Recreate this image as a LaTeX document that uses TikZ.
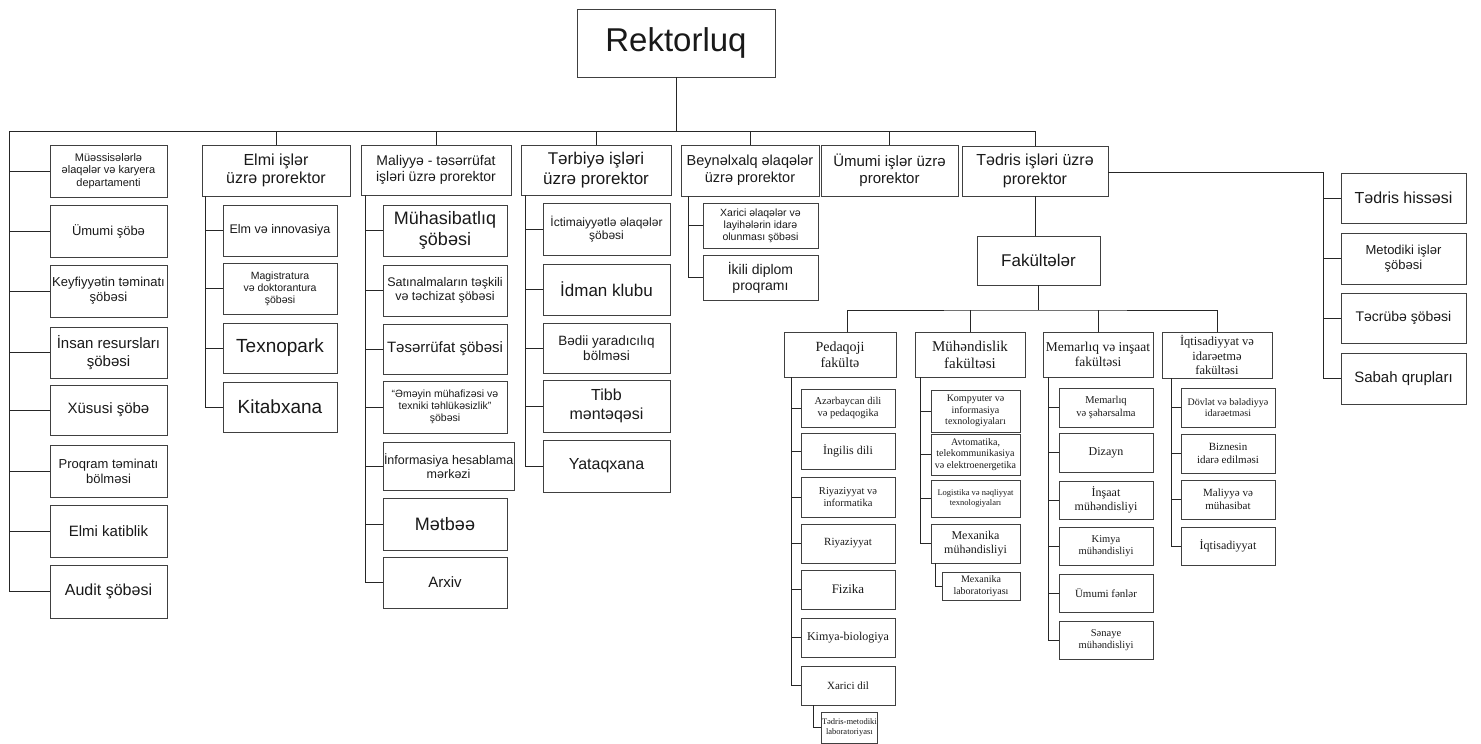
\documentclass[tikz,border=0pt]{standalone}
\usepackage{fontspec}
\setmainfont{Liberation Sans}
\newfontfamily\facfont{Liberation Serif}
\tikzset{
  box/.style={draw=black!75, line width=0.8pt, inner sep=1pt, outer sep=0pt, align=center, text=black!90},
  conn/.style={draw=black!85, line width=0.8pt}
}
\newcommand\obox[7]{\node[box, minimum width={#4-#2}, minimum height={#5-#3}, anchor=north west, font={\fontsize{#6}{\fpeval{1.15*#6}}\selectfont}] (#1) at (#2,#3) {#7};}
\newcommand\facbox[7]{\node[box, minimum width={#4-#2}, minimum height={#5-#3}, anchor=north west, font={\facfont\fontsize{#6}{\fpeval{1.15*#6}}\selectfont}] (#1) at (#2,#3) {#7};}
\begin{document}
\begin{tikzpicture}[x=1pt,y=-1pt]
\useasboundingbox (0,0) rectangle (1481,744);
% top
\obox{rek}{577}{9}{775}{77}{33}{Rektorluq}
% level 1
\obox{elmi}{202}{145}{350}{196}{16}{Elmi işlər\\üzrə prorektor}
\obox{mal}{361}{145}{511}{195}{14}{Maliyyə - təsərrüfat\\işləri üzrə prorektor}
\obox{ter}{521}{145}{671}{195}{17}{Tərbiyə işləri\\üzrə prorektor}
\obox{bey}{681}{145}{819}{196}{14.5}{Beynəlxalq əlaqələr\\üzrə prorektor}
\obox{umu}{821}{145}{958}{196}{15}{Ümumi işlər üzrə\\prorektor}
\obox{ted}{962}{146}{1108}{196}{16}{Tədris işləri üzrə\\prorektor}
% left column
\obox{m1}{50}{145}{167}{197}{11}{Müəssisələrlə\\əlaqələr və karyera\\departamenti}
\obox{m2}{50}{205}{167}{257}{13}{Ümumi şöbə}
\obox{m3}{50}{265}{167}{317}{13}{Keyfiyyətin təminatı\\şöbəsi}
\obox{m4}{50}{327}{167}{378}{15}{İnsan resursları\\şöbəsi}
\obox{m5}{50}{385}{167}{435}{15}{Xüsusi şöbə}
\obox{m6}{50}{445}{167}{497}{13}{Proqram təminatı\\bölməsi}
\obox{m7}{50}{505}{167}{557}{15}{Elmi katiblik}
\obox{m8}{50}{565}{167}{618}{16}{Audit şöbəsi}
% elmi
\obox{e1}{223}{205}{337}{256}{12.5}{Elm və innovasiya}
\obox{e2}{223}{263}{337}{314}{10.5}{Magistratura\\və doktorantura\\şöbəsi}
\obox{e3}{223}{323}{337}{373}{19}{Texnopark}
\obox{e4}{223}{382}{337}{432}{19}{Kitabxana}
% maliyye
\obox{a1}{383}{205}{507}{256}{18}{Mühasibatlıq\\şöbəsi}
\obox{a2}{383}{265}{507}{316}{12.5}{Satınalmaların təşkili\\və təchizat şöbəsi}
\obox{a3}{383}{324}{507}{374}{15}{Təsərrüfat şöbəsi}
\obox{a4}{383}{381}{507}{433}{10.5}{“Əməyin mühafizəsi və\\texniki təhlükəsizlik”\\şöbəsi}
\obox{a5}{383}{442}{507}{490}{12.5}{İnformasiya hesablama\\mərkəzi}
\obox{a6}{383}{498}{507}{550}{18}{Mətbəə}
\obox{a7}{383}{557}{507}{608}{15}{Arxiv}
% terbiye
\obox{t1}{543}{203}{670}{255}{12}{İctimaiyyətlə əlaqələr\\şöbəsi}
\obox{t2}{543}{264}{670}{315}{17}{İdman klubu}
\obox{t3}{543}{323}{670}{373}{13.5}{Bədii yaradıcılıq\\bölməsi}
\obox{t4}{543}{380}{670}{432}{16}{Tibb\\məntəqəsi}
\obox{t5}{543}{440}{670}{492}{16}{Yataqxana}
% beynelxalq
\obox{b1}{703}{203}{818}{248}{10.5}{Xarici əlaqələr və\\layihələrin idarə\\olunması şöbəsi}
\obox{b2}{703}{255}{818}{300}{14}{İkili diplom\\proqramı}
% right
\obox{r1}{1341}{173}{1466}{223}{16}{Tədris hissəsi}
\obox{r2}{1341}{233}{1466}{284}{13}{Metodiki işlər\\şöbəsi}
\obox{r3}{1341}{293}{1466}{343}{14}{Təcrübə şöbəsi}
\obox{r4}{1341}{353}{1466}{404}{15}{Sabah qrupları}
% fakulteler
\obox{fak}{977}{236}{1100}{285}{17}{Fakültələr}
\facbox{pe}{784}{332}{896}{377}{14}{Pedaqoji\\fakültə}
\facbox{mu}{915}{332}{1025}{377}{15}{Mühəndislik\\fakültəsi}
\facbox{me}{1043}{332}{1153}{377}{13.5}{Memarlıq və inşaat\\fakültəsi}
\facbox{iq}{1162}{332}{1272}{378}{12.5}{İqtisadiyyat və\\idarəetmə\\fakültəsi}
% pedaqoji
\facbox{p1}{801}{389}{895}{427}{10.5}{Azərbaycan dili\\və pedaqogika}
\facbox{p2}{801}{433}{895}{469}{12}{İngilis dili}
\facbox{p3}{801}{477}{895}{517}{10.5}{Riyaziyyat və\\informatika}
\facbox{p4}{801}{524}{895}{563}{11}{Riyaziyyat}
\facbox{p5}{801}{570}{895}{609}{13}{Fizika}
\facbox{p6}{801}{618}{895}{657}{12}{Kimya-biologiya}
\facbox{p7}{801}{666}{895}{705}{11}{Xarici dil}
\facbox{p8}{821}{712}{874}{743}{8.5}{Tədris-metodiki\\laboratoriyası}
% muhendislik
\facbox{n1}{931}{390}{1020}{432}{10}{Kompyuter və\\informasiya\\texnologiyaları}
\facbox{n2}{931}{434}{1020}{475}{10}{Avtomatika,\\telekommunikasiya\\və elektroenergetika}
\facbox{n3}{931}{480}{1020}{517}{8.5}{Logistika və nəqliyyat\\texnologiyaları}
\facbox{n4}{931}{524}{1020}{563}{12}{Mexanika\\mühəndisliyi}
\facbox{n5}{942}{572}{1020}{600}{10}{Mexanika\\laboratoriyası}
% memarliq
\facbox{s1}{1059}{388}{1153}{427}{10.5}{Memarlıq\\və şəhərsalma}
\facbox{s2}{1059}{433}{1153}{472}{12}{Dizayn}
\facbox{s3}{1059}{481}{1153}{519}{12}{İnşaat\\mühəndisliyi}
\facbox{s4}{1059}{527}{1153}{565}{10.5}{Kimya\\mühəndisliyi}
\facbox{s5}{1059}{574}{1153}{612}{11}{Ümumi fənlər}
\facbox{s6}{1059}{621}{1153}{659}{10.5}{Sənaye\\mühəndisliyi}
% iqtisadiyyat
\facbox{q1}{1181}{388}{1275}{427}{10}{Dövlət və bələdiyyə\\idarəetməsi}
\facbox{q2}{1181}{434}{1275}{473}{11}{Biznesin\\idarə edilməsi}
\facbox{q3}{1181}{480}{1275}{519}{11}{Maliyyə və\\mühasibat}
\facbox{q4}{1181}{527}{1275}{565}{12}{İqtisadiyyat}
% ---------- connectors
\coordinate (L) at (9,131);
\draw[conn] (rek.south) -- (rek.south |- L);
\draw[conn] (L) -| (ted.north);
\foreach \c in {elmi,mal,ter,bey,umu} \draw[conn] (\c.north) -- (\c.north |- L);
\foreach \c in {m1,m2,m3,m4,m5,m6,m7,m8} \draw[conn] (L) |- (\c.west);
\coordinate (eV) at ([xshift=3pt]elmi.south west);
\foreach \c in {e1,e2,e3,e4} \draw[conn] (eV) |- (\c.west);
\coordinate (aV) at ([xshift=4pt]mal.south west);
\foreach \c in {a1,a2,a3,a4,a5,a6,a7} \draw[conn] (aV) |- (\c.west);
\coordinate (tV) at ([xshift=4pt]ter.south west);
\foreach \c in {t1,t2,t3,t4,t5} \draw[conn] (tV) |- (\c.west);
\coordinate (bV) at ([xshift=7pt]bey.south west);
\foreach \c in {b1,b2} \draw[conn] (bV) |- (\c.west);
\coordinate (rV) at (1323,172);
\draw[conn] (ted.east |- rV) -- (rV);
\foreach \c in {r1,r2,r3,r4} \draw[conn] (rV) |- (\c.west);
\draw[conn] (ted.south) -- (ted.south |- fak.north);
\path (fak.south) ++(0,25) coordinate (fB);
\coordinate (pD) at (847,310);
\draw[conn] (fak.south) -- (fB);
\draw[conn] (pD |- pe.north) -- (pD) -- (fB) -| (iq.north);
\draw[conn] (mu.north) -- (mu.north |- fB);
\draw[conn] (me.north) -- (me.north |- fB);
\coordinate (pV) at ([xshift=7pt]pe.south west);
\foreach \c in {p1,p2,p3,p4,p5,p6,p7} \draw[conn] (pV) |- (\c.west);
\draw[conn] ([xshift=12pt]p7.south west) |- (p8.west);
\coordinate (nV) at ([xshift=5pt]mu.south west);
\foreach \c in {n1,n2,n3,n4} \draw[conn] (nV) |- (\c.west);
\draw[conn] ([xshift=4pt]n4.south west) |- (n5.west);
\coordinate (sV) at ([xshift=5pt]me.south west);
\foreach \c in {s1,s2,s3,s4,s5,s6} \draw[conn] (sV) |- (\c.west);
\coordinate (qV) at ([xshift=9pt]iq.south west);
\foreach \c in {q1,q2,q3,q4} \draw[conn] (qV) |- (\c.west);
\end{tikzpicture}
\end{document}
